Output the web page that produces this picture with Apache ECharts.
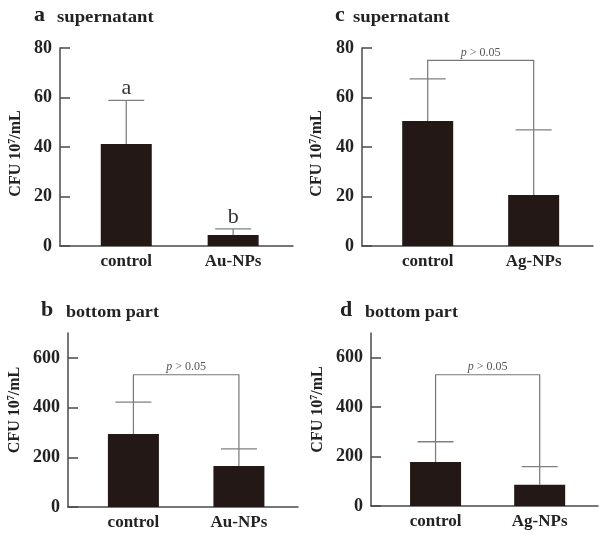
<!DOCTYPE html>
<html><head><meta charset="utf-8">
<script src="https://cdn.jsdelivr.net/npm/echarts@6/dist/echarts.min.js"></script>
<style>html,body{margin:0;padding:0;background:#fff}#c{width:599px;height:534px}</style>
</head><body><div id="c"></div>
<script>
// ---------- data ----------
const panelLetters = ['a', 'c', 'b', 'd'];
const panelTitles = ['supernatant', 'supernatant', 'bottom part', 'bottom part'];
const categoriesAu = ['control', 'Au-NPs'];
const categoriesAg = ['control', 'Ag-NPs'];
const meanA = [41.2, 4.4];   const upperA = [58.8, 6.9];
const lettersA = ['a', 'b'];
const meanC = [50.5, 20.6];  const upperC = [67.5, 46.9];
const meanB = [294, 165];    const upperB = [422, 234];
const meanD = [178, 86];     const upperD = [260, 159];
const bracketC = 75; const bracketB = 532; const bracketD = 531;
const pText = 'p > 0.05';
const ticksTop = [0, 20, 40, 60, 80];
const ticksBottom = [0, 200, 400, 600];
const yMaxTop = 80; const yMaxBottom = 700;
const yName = 'CFU 10{s|7}/mL';

// ---------- layout / style ----------
const SERIF = '"Liberation Serif", "Times New Roman", serif';
const AXIS_COLOR = '#4a4a4a';
const BAR_COLOR = '#231815';
const ERR_COLOR = '#808080';
const panels = [
  {grid: {left: 60, top: 48, width: 233, height: 198}, cats: categoriesAu, mean: meanA, upper: upperA, letters: lettersA, bracket: null, yMax: yMaxTop, ticks: ticksTop, nameGap: 35.5, namePad: [0, 13, 0, 0]},
  {grid: {left: 362, top: 48, width: 231, height: 198}, cats: categoriesAg, mean: meanC, upper: upperC, letters: null, bracket: bracketC, yMax: yMaxTop, ticks: ticksTop, nameGap: 37, namePad: [0, 13, 0, 0]},
  {grid: {left: 68, top: 333, width: 230, height: 174}, cats: categoriesAu, mean: meanB, upper: upperB, letters: null, bracket: bracketB, yMax: yMaxBottom, ticks: ticksBottom, nameGap: 44.5, namePad: [0, 0, 0, 20]},
  {grid: {left: 371, top: 333, width: 227, height: 173}, cats: categoriesAg, mean: meanD, upper: upperD, letters: null, bracket: bracketD, yMax: yMaxBottom, ticks: ticksBottom, nameGap: 45, namePad: [0, 0, 0, 20]}
];
const titlePos = [
  {lx: 34, wx: 57, base: 23, wscale: 1.17},
  {lx: 335, wx: 353, base: 23, wscale: 1.17},
  {lx: 41, wx: 66, base: 318, wscale: 1.13},
  {lx: 340, wx: 365, base: 318, wscale: 1.13}
];

const chart = echarts.init(document.getElementById('c'), null, {renderer: 'canvas'});

const grids = [], xAxes = [], yAxes = [], series = [];
panels.forEach((p, i) => {
  grids.push(Object.assign({containLabel: false}, p.grid));
  xAxes.push({
    type: 'value', gridIndex: i, min: -0.62, max: 1.56,
    axisLine: {show: true, onZero: false, lineStyle: {color: AXIS_COLOR, width: 1.5}},
    axisTick: {show: false}, splitLine: {show: false},
    axisLabel: {customValues: [0, 1], formatter: v => p.cats[Math.round(v)], margin: 7,
      fontFamily: SERIF, fontSize: 17, fontWeight: 'bold', color: '#222'}
  });
  yAxes.push({
    type: 'value', gridIndex: i, min: 0, max: p.yMax,
    axisLine: {show: true, onZero: false, lineStyle: {color: AXIS_COLOR, width: 1.5}},
    axisTick: {show: true, inside: true, length: 10, customValues: p.ticks, lineStyle: {color: AXIS_COLOR, width: 1.5}},
    axisLabel: {customValues: p.ticks, margin: 8, fontFamily: SERIF, fontSize: 18, fontWeight: 'bold', color: '#222'},
    splitLine: {show: false},
    name: yName, nameLocation: 'middle', nameRotate: 90, nameGap: p.nameGap,
    nameTextStyle: {fontFamily: SERIF, fontSize: 16, fontWeight: 'bold', color: '#222', padding: p.namePad,
      rich: {s: {fontFamily: SERIF, fontSize: 10, fontWeight: 'bold', color: '#222', verticalAlign: 'bottom', padding: [0, 0, 7, 0]}}}
  });
  series.push({
    type: 'bar', xAxisIndex: i, yAxisIndex: i, barWidth: 51,
    itemStyle: {color: BAR_COLOR}, silent: true,
    data: p.cats.map((c, k) => [k, p.mean[k]])
  });
  series.push({
    type: 'custom', xAxisIndex: i, yAxisIndex: i, silent: true, z: 3,
    encode: {x: 0, y: [1, 2]},
    data: p.cats.map((c, k) => [k, p.mean[k], p.upper[k]]),
    renderItem: (params, api) => {
      const x = api.value(0);
      const p0 = api.coord([x, api.value(1)]);
      const p1 = api.coord([x, api.value(2)]);
      const half = 18;
      const children = [
        {type: 'line', shape: {x1: p0[0], y1: p0[1], x2: p1[0], y2: p1[1]}, style: {stroke: ERR_COLOR, lineWidth: 1.3}},
        {type: 'line', shape: {x1: p1[0] - half, y1: p1[1], x2: p1[0] + half, y2: p1[1]}, style: {stroke: ERR_COLOR, lineWidth: 1.3}}
      ];
      if (p.letters) {
        children.push({type: 'text', x: p1[0], y: p1[1] - 1,
          style: {text: p.letters[params.dataIndex], align: 'center', verticalAlign: 'bottom',
            font: '22px ' + SERIF, fill: '#333'}});
      }
      return {type: 'group', children};
    }
  });
  if (p.bracket !== null) {
    series.push({
      type: 'custom', xAxisIndex: i, yAxisIndex: i, silent: true, z: 4,
      encode: {x: 0, y: 3},
      data: [[0, p.upper[0], p.upper[1], p.bracket]],
      renderItem: (params, api) => {
        const by = api.value(3);
        const pts = [api.coord([0, api.value(1)]), api.coord([0, by]), api.coord([1, by]), api.coord([1, api.value(2)])];
        return {type: 'group', children: [
          {type: 'polyline', shape: {points: pts}, style: {stroke: '#777', lineWidth: 1.2, fill: null}},
          {type: 'text', x: (pts[1][0] + pts[2][0]) / 2, y: pts[1][1] - 2,
            style: {text: '{i|p}' + pText.slice(1), align: 'center', verticalAlign: 'bottom',
              font: '12px ' + SERIF, fill: '#555',
              rich: {i: {fontStyle: 'italic', fontFamily: SERIF, fontSize: 12, fill: '#555'}}}}
        ]};
      }
    });
  }
});

const graphics = [];
titlePos.forEach((t, i) => {
  graphics.push({type: 'text', x: t.lx, y: t.base - 7.5, silent: true,
    style: {text: panelLetters[i], font: 'bold 22px ' + SERIF, fill: '#222', align: 'left', verticalAlign: 'middle'}});
  graphics.push({type: 'text', x: t.wx, y: t.base - 5.4, scaleX: t.wscale, silent: true,
    style: {text: panelTitles[i], font: 'bold 16px ' + SERIF, fill: '#222', align: 'left', verticalAlign: 'middle'}});
});

chart.setOption({
  animation: false,
  backgroundColor: '#fff',
  grid: grids, xAxis: xAxes, yAxis: yAxes, series: series,
  graphic: graphics
});
</script></body></html>
